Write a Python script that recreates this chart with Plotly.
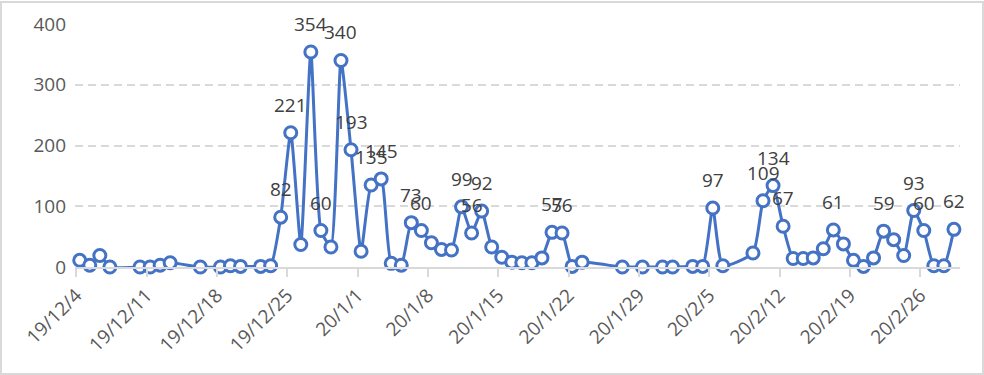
import plotly.graph_objects as go
import pandas as pd

dates = ["2019-12-04", "2019-12-05", "2019-12-06", "2019-12-07", "2019-12-10", "2019-12-11",
         "2019-12-12", "2019-12-13", "2019-12-16", "2019-12-18", "2019-12-19", "2019-12-20",
         "2019-12-22", "2019-12-23", "2019-12-24", "2019-12-25", "2019-12-26", "2019-12-27",
         "2019-12-28", "2019-12-29", "2019-12-30", "2019-12-31", "2020-01-01", "2020-01-02",
         "2020-01-03", "2020-01-04", "2020-01-05", "2020-01-06", "2020-01-07", "2020-01-08",
         "2020-01-09", "2020-01-10", "2020-01-11", "2020-01-12", "2020-01-13", "2020-01-14",
         "2020-01-15", "2020-01-16", "2020-01-17", "2020-01-18", "2020-01-19", "2020-01-20",
         "2020-01-21", "2020-01-22", "2020-01-23", "2020-01-27", "2020-01-29", "2020-01-31",
         "2020-02-01", "2020-02-03", "2020-02-04", "2020-02-05", "2020-02-06", "2020-02-09",
         "2020-02-10", "2020-02-11", "2020-02-12", "2020-02-13", "2020-02-14", "2020-02-15",
         "2020-02-16", "2020-02-17", "2020-02-18", "2020-02-19", "2020-02-20", "2020-02-21",
         "2020-02-22", "2020-02-23", "2020-02-24", "2020-02-25", "2020-02-26", "2020-02-27",
         "2020-02-28", "2020-02-29"]

values = [11, 3, 19, 0, 0, 0, 3, 7, 0, 0, 2, 1,
          1, 2, 82, 221, 37, 354, 60, 33, 340, 193,
          26, 135, 145, 6, 3, 73, 60, 40, 29, 28, 99, 56, 92, 33, 16, 8, 7, 7, 15, 57, 56, 1, 8,
          0, 0, 0, 0, 1, 1, 97, 2,
          23, 109, 134, 67, 14, 14, 15, 30, 61, 38, 11, 1, 15, 59, 45, 19, 93, 60, 2, 2, 62]

tick_dates = ["2019-12-04", "2019-12-11", "2019-12-18", "2019-12-25", "2020-01-01", "2020-01-08",
              "2020-01-15", "2020-01-22", "2020-01-29", "2020-02-05", "2020-02-12", "2020-02-19",
              "2020-02-26"]
tick_labels = ["19/12/4", "19/12/11", "19/12/18", "19/12/25", "20/1/1", "20/1/8", "20/1/15",
               "20/1/22", "20/1/29", "20/2/5", "20/2/12", "20/2/19", "20/2/26"]

label_threshold = 50

x = pd.to_datetime(dates)
ticks = pd.to_datetime(tick_dates) - pd.Timedelta(hours=8.4)

BLUE = "#4472C4"
FONT = "Open Sans"

fig = go.Figure()
fig.add_trace(go.Scatter(
    x=x, y=values, mode="lines+markers",
    line=dict(color=BLUE, width=3, shape="spline", smoothing=0.5),
    marker=dict(symbol="circle", size=12, color="white", line=dict(color=BLUE, width=3)),
    cliponaxis=False, hoverinfo="x+y",
))

for d, v in zip(x, values):
    if v > label_threshold:
        fig.add_annotation(x=d, y=v, text=str(v), showarrow=False, yshift=28,
                           font=dict(family=FONT, size=19, color="#404040"))

fig.update_layout(
    width=984, height=375,
    margin=dict(l=75, r=24, t=24, b=108, autoexpand=False),
    paper_bgcolor="white", plot_bgcolor="white",
    showlegend=False,
    font=dict(family=FONT, size=19, color="#595959"),
    shapes=[dict(type="rect", xref="paper", yref="paper",
                 x0=-74 / 885, x1=908 / 885, y0=-107 / 243, y1=265 / 243,
                 line=dict(color="#d9d9d9", width=2), fillcolor="rgba(0,0,0,0)", layer="below")],
)

fig.update_xaxes(
    type="date", automargin=False,
    range=[x[0] - pd.Timedelta(hours=11.3), x[-1] + pd.Timedelta(hours=14.5)],
    tickmode="array", tickvals=ticks, ticktext=tick_labels, tickangle=-45,
    showgrid=False, showline=True, linecolor="#d9d9d9", linewidth=1.5,
    ticks="outside", ticklen=8, tickcolor="#d9d9d9", tickwidth=1.5,
    tickfont=dict(family=FONT, size=19, color="#595959"), zeroline=False,
)
fig.update_yaxes(
    range=[0, 400], tickvals=[0, 100, 200, 300, 400], automargin=False,
    showgrid=True, gridcolor="#d9d9d9", gridwidth=1.5, griddash="8px,5px",
    zeroline=False, showline=False, ticks="", ticklabelstandoff=8,
    tickfont=dict(family=FONT, size=19, color="#595959"),
)

fig.write_html("out.html", config={"displayModeBar": False},
               post_script="document.body.style.margin='0';document.body.style.overflow='hidden';")
